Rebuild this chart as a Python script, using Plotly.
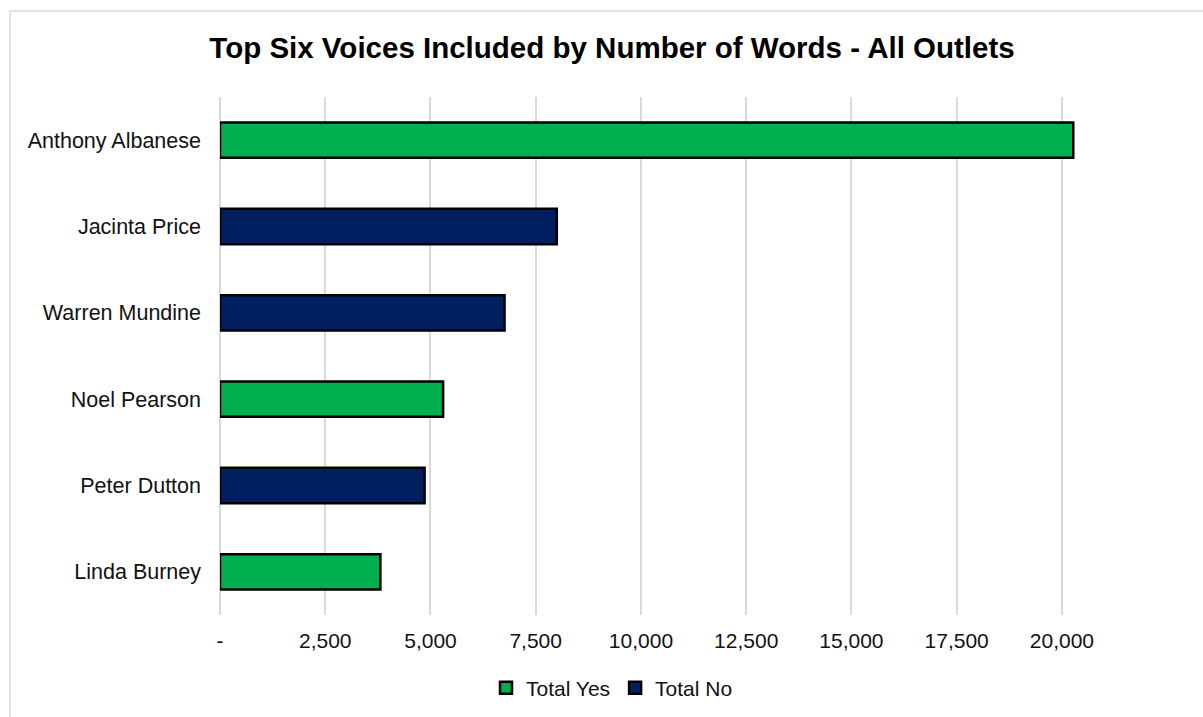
import plotly.graph_objects as go

categories = ["Anthony Albanese", "Jacinta Price", "Warren Mundine",
              "Noel Pearson", "Peter Dutton", "Linda Burney"]
yes_names = ["Anthony Albanese", "Noel Pearson", "Linda Burney"]
yes_values = [20270, 5300, 3810]
no_names = ["Jacinta Price", "Warren Mundine", "Peter Dutton"]
no_values = [8000, 6760, 4860]
tick_vals = [0, 2500, 5000, 7500, 10000, 12500, 15000, 17500, 20000]
tick_text = ["-", "2,500", "5,000", "7,500", "10,000", "12,500", "15,000", "17,500", "20,000"]

W, H = 1203, 717
L, R, T, B = 220, 99, 97, 102
pw, ph = W - L - R, H - T - B

font = "Liberation Sans, Arial, sans-serif"
txt = "#111111"

fig = go.Figure()
fig.add_trace(go.Bar(
    name="Total Yes", y=yes_names, x=yes_values, orientation="h",
    marker=dict(color="#00B050", line=dict(color="#000000", width=2.5)),
))
fig.add_trace(go.Bar(
    name="Total No", y=no_names, x=no_values, orientation="h",
    marker=dict(color="#002060", line=dict(color="#000000", width=2.5)),
))

def px_x(p):
    return (p - L) / pw

def px_y(p):
    return (H - B - p) / ph

fig.update_layout(
    width=W, height=H,
    margin=dict(l=L, r=R, t=T, b=B),
    paper_bgcolor="white", plot_bgcolor="white",
    barmode="overlay", bargap=0.59,
    font=dict(family=font, size=21, color=txt),
    title=dict(text="<b>Top Six Voices Included by Number of Words - All Outlets</b>",
               x=612 / W, xref="container", xanchor="center",
               y=1 - 48 / H, yref="container", yanchor="middle",
               font=dict(family=font, size=29.5, color="#000000")),
    xaxis=dict(range=[0, 21000], tickvals=tick_vals, ticktext=tick_text,
               showgrid=True, gridcolor="#d9d9d9", gridwidth=2,
               zeroline=True, zerolinecolor="#d9d9d9", zerolinewidth=2,
               showline=False, ticks="", ticklabelstandoff=11,
               tickfont=dict(family=font, size=21, color=txt),
               fixedrange=True),
    yaxis=dict(categoryorder="array", categoryarray=categories, autorange="reversed",
               showgrid=False, zeroline=False, showline=False, ticks="",
               ticklabelstandoff=18,
               tickfont=dict(family=font, size=21.5, color=txt)),
    legend=dict(orientation="h", xref="container", x=612 / W, xanchor="center",
                yref="container", y=1 - 688 / H, yanchor="middle",
                font=dict(family=font, size=21, color=txt),
                traceorder="normal", itemwidth=30),
    showlegend=True,
    shapes=[
        dict(type="line", xref="paper", yref="paper",
             x0=px_x(10), x1=px_x(1210), y0=px_y(11), y1=px_y(11),
             line=dict(color="#d9d9d9", width=1.5)),
        dict(type="line", xref="paper", yref="paper",
             x0=px_x(10), x1=px_x(10), y0=px_y(11), y1=px_y(720),
             line=dict(color="#d9d9d9", width=1.5)),
    ],
)

fig.write_html("out.html")
